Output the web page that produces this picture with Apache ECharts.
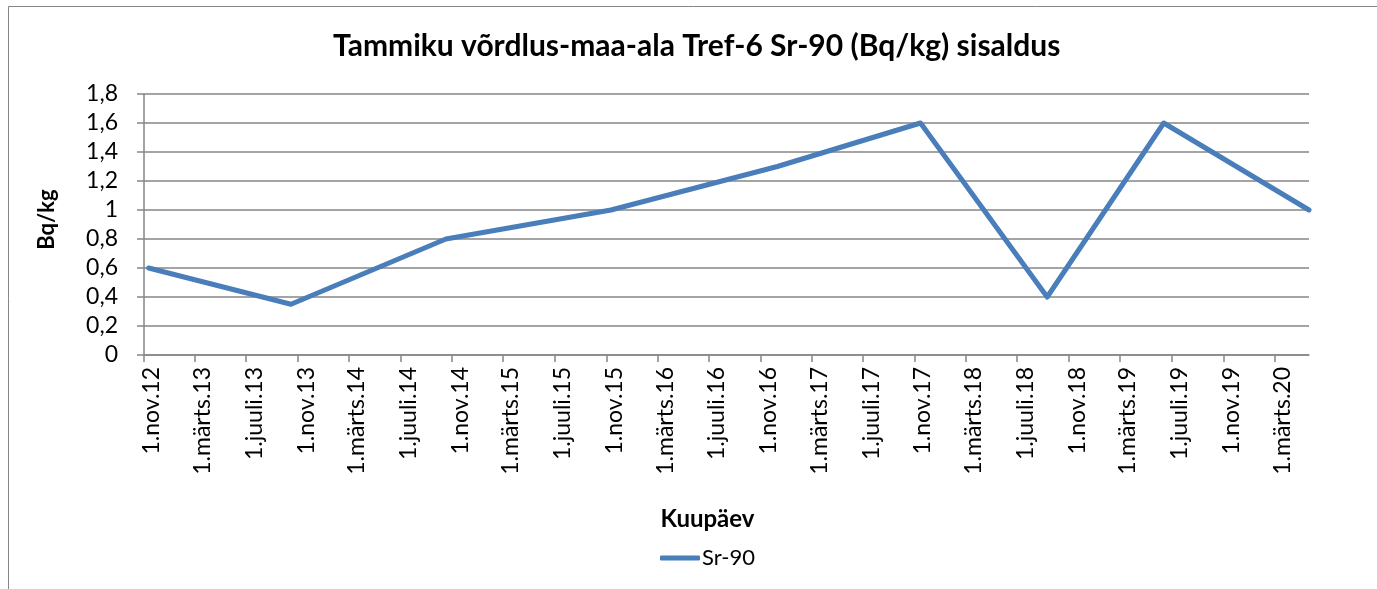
<!DOCTYPE html>
<html>
<head>
<meta charset="utf-8">
<script src="https://cdn.jsdelivr.net/npm/echarts@6/dist/echarts.min.js"></script>
<style>
  html, body { margin: 0; padding: 0; background: #fff; }
  #chart { width: 1377px; height: 589px; }
</style>
</head>
<body>
<div id="chart"></div>
<script>
// Sr-90 measurements (Bq/kg) at the Tammiku reference site Tref-6
const sampleDates = ['2012-11-12', '2013-10-15', '2014-10-17', '2015-11-12', '2016-12-10',
                     '2017-11-14', '2018-09-10', '2019-06-13', '2020-05-22'];
const sr90 = [0.6, 0.35, 0.8, 1.0, 1.3, 1.6, 0.4, 1.6, 1.0];

// Date axis: ticks every four months from the first day of November 2012
const tickDates = ['2012-11-01', '2013-03-01', '2013-07-01', '2013-11-01', '2014-03-01', '2014-07-01',
                   '2014-11-01', '2015-03-01', '2015-07-01', '2015-11-01', '2016-03-01', '2016-07-01',
                   '2016-11-01', '2017-03-01', '2017-07-01', '2017-11-01', '2018-03-01', '2018-07-01',
                   '2018-11-01', '2019-03-01', '2019-07-01', '2019-11-01', '2020-03-01'];
const tickLabels = ['1.nov.12', '1.märts.13', '1.juuli.13', '1.nov.13', '1.märts.14', '1.juuli.14',
                    '1.nov.14', '1.märts.15', '1.juuli.15', '1.nov.15', '1.märts.16', '1.juuli.16',
                    '1.nov.16', '1.märts.17', '1.juuli.17', '1.nov.17', '1.märts.18', '1.juuli.18',
                    '1.nov.18', '1.märts.19', '1.juuli.19', '1.nov.19', '1.märts.20'];
const axisStart = '2012-11-01';
const axisEnd = '2020-05-22';

function utc(s) {
  const [y, m, d] = s.split('-').map(Number);
  return Date.UTC(y, m - 1, d);
}

const tickTimes = tickDates.map(utc);
const seriesData = sampleDates.map((d, i) => [utc(d), sr90[i]]);

const FONT = 'Lato, "Liberation Sans", sans-serif';
const AXIS_GREY = '#868686';
const LINE_BLUE = '#4A7EBB';

const chart = echarts.init(document.getElementById('chart'), null, { renderer: 'canvas' });

chart.setOption({
  backgroundColor: '#ffffff',
  animation: false,
  textStyle: { fontFamily: FONT, color: '#000' },
  title: {
    text: 'Tammiku võrdlus-maa-ala Tref-6 Sr-90 (Bq/kg) sisaldus',
    left: 333,
    top: 31,
    padding: 0,
    textStyle: { fontFamily: FONT, fontWeight: 'bold', fontSize: 30, color: '#000' }
  },
  graphic: [{
    type: 'rect',
    silent: true,
    shape: { x: 8.5, y: 6.5, width: 1420, height: 700 },
    style: { fill: null, stroke: AXIS_GREY, lineWidth: 1 }
  }],
  legend: {
    left: 655,
    top: 542,
    itemWidth: 40,
    itemHeight: 5,
    itemGap: 10,
    icon: 'roundRect',
    data: ['Sr-90'],
    textStyle: { fontFamily: FONT, fontSize: 22, color: '#000', padding: [0, 0, 0, -3] }
  },
  grid: {
    left: 144, right: 68, top: 94, bottom: 234,
    containLabel: false,
    outerBoundsMode: 'none'
  },
  xAxis: {
    type: 'value',
    min: utc(axisStart),
    max: utc(axisEnd),
    name: 'Kuupäev',
    nameLocation: 'middle',
    nameGap: 152,
    nameTextStyle: { fontFamily: FONT, fontWeight: 'bold', fontSize: 24, color: '#000', padding: [0, 38, 0, 0] },
    splitLine: { show: false },
    axisLine: { show: true, lineStyle: { color: AXIS_GREY, width: 1.5 } },
    axisTick: { show: true, length: 7, customValues: tickTimes, lineStyle: { color: AXIS_GREY, width: 1.5 } },
    axisLabel: {
      show: true,
      customValues: tickTimes,
      rotate: 90,
      margin: 12,
      verticalAlign: 'top',
      lineHeight: 16,
      fontFamily: FONT,
      fontSize: 23,
      color: '#000',
      formatter: (v) => {
        const i = tickTimes.indexOf(v);
        return i >= 0 ? tickLabels[i] : '';
      }
    }
  },
  yAxis: {
    type: 'value',
    min: 0,
    max: 1.8,
    interval: 0.2,
    name: 'Bq/kg',
    nameLocation: 'middle',
    nameGap: 86,
    nameTextStyle: { fontFamily: FONT, fontWeight: 'bold', fontSize: 22, color: '#000', padding: [0, 0, 0, 10] },
    splitLine: { show: true, lineStyle: { color: AXIS_GREY, width: 1.5 } },
    axisLine: { show: true, lineStyle: { color: AXIS_GREY, width: 1.5 } },
    axisTick: { show: true, length: 7, lineStyle: { color: AXIS_GREY, width: 1.5 } },
    axisLabel: {
      margin: 26,
      fontFamily: FONT,
      fontSize: 23,
      color: '#000',
      formatter: (v) => String(Math.round(v * 10) / 10).replace('.', ',')
    }
  },
  series: [{
    name: 'Sr-90',
    type: 'line',
    data: seriesData,
    symbol: 'none',
    showSymbol: false,
    lineStyle: { color: LINE_BLUE, width: 5, cap: 'round', join: 'round' },
    itemStyle: { color: LINE_BLUE }
  }]
});
</script>
</body>
</html>
